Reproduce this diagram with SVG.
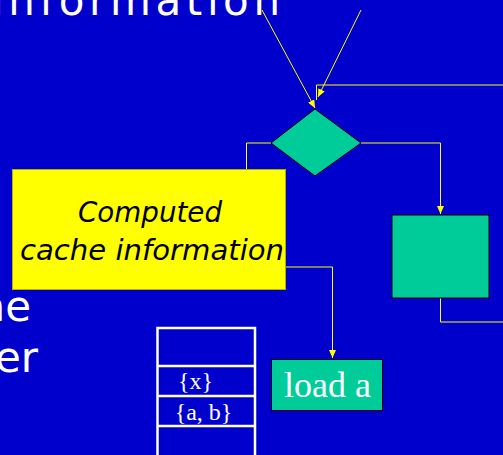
<svg xmlns="http://www.w3.org/2000/svg" width="503" height="455" viewBox="0 0 503 455">
  <style>
    .slide { font-family: "DejaVu Sans", "Noto Sans", sans-serif; fill: #ffffff; font-size: 42px; }
    .teal { fill: #00cc99; stroke: #000000; stroke-width: 1; }
    .note { fill: #ffff00; stroke: #b0b000; stroke-width: 1; }
    .note-text { font-family: "DejaVu Sans", "Noto Sans", sans-serif; font-style: italic; font-size: 29px; fill: #000000; text-anchor: middle; }
    .serif { font-family: "Liberation Serif", "Times New Roman", serif; fill: #ffffff; text-anchor: middle; }
    .conn { fill: none; stroke: #ffff00; stroke-width: 1; }
    .stack { fill: none; stroke: #ffffff; stroke-width: 2.5; }
  </style>
  <defs>
    <marker id="arrow" viewBox="0 0 8 7" refX="8" refY="3.5" markerWidth="8" markerHeight="7" markerUnits="userSpaceOnUse" orient="auto">
      <path d="M0,0 L8,3.5 L0,7 z" fill="#ffff00"/>
    </marker>
  </defs>

  <rect x="0" y="0" width="503" height="455" fill="#0000cc"/>

  <!-- slide text, partly outside the frame -->
  <text class="slide" x="-8" y="15" textLength="288" lengthAdjust="spacing">information</text>
  <text class="slide" x="31" y="321" text-anchor="end">ne</text>
  <text class="slide" x="38" y="372" text-anchor="end">er</text>

  <!-- connectors -->
  <g id="connectors">
    <path class="conn" d="M262,10 L315,108" marker-end="url(#arrow)"/>
    <path class="conn" d="M361,10 L318,97" marker-end="url(#arrow)"/>
    <path class="conn" d="M503,85 L316.5,85 L316.5,100"/>
    <path class="conn" d="M271,143 L246.5,143 L246.5,169"/>
    <path class="conn" d="M361,143 L440.5,143 L440.5,214" marker-end="url(#arrow)"/>
    <path class="conn" d="M440.5,298 L440.5,322 L503,322"/>
    <path class="conn" d="M286,267 L332.5,267 L332.5,358" marker-end="url(#arrow)"/>
  </g>

  <!-- decision -->
  <g id="decision">
    <polygon class="teal" points="315,109 361,143 315,176 271,143"/>
  </g>

  <!-- process box on the right -->
  <g id="process">
    <rect class="teal" x="392" y="215" width="97" height="83"/>
  </g>

  <!-- yellow note -->
  <g id="cache-info">
    <rect class="note" x="12.5" y="169.5" width="273" height="120"/>
    <text class="note-text" x="150" y="222" textLength="144" lengthAdjust="spacingAndGlyphs">Computed</text>
    <text class="note-text" x="152" y="260" textLength="264" lengthAdjust="spacingAndGlyphs">cache information</text>
  </g>

  <!-- load instruction -->
  <g id="load-a">
    <rect class="teal" x="271.5" y="359.5" width="111" height="51"/>
    <text class="serif" x="327.5" y="397" font-size="36">load a</text>
  </g>

  <!-- stack of sets -->
  <g id="stack">
    <path class="stack" d="M157.5,455 L157.5,328 L255,328 L255,455 M157.5,366 L255,366 M157.5,396 L255,396 M157.5,426 L255,426"/>
    <text class="serif" x="195.5" y="389" font-size="24">{x}</text>
    <text class="serif" x="203.5" y="420" font-size="24">{a, b}</text>
  </g>
</svg>
